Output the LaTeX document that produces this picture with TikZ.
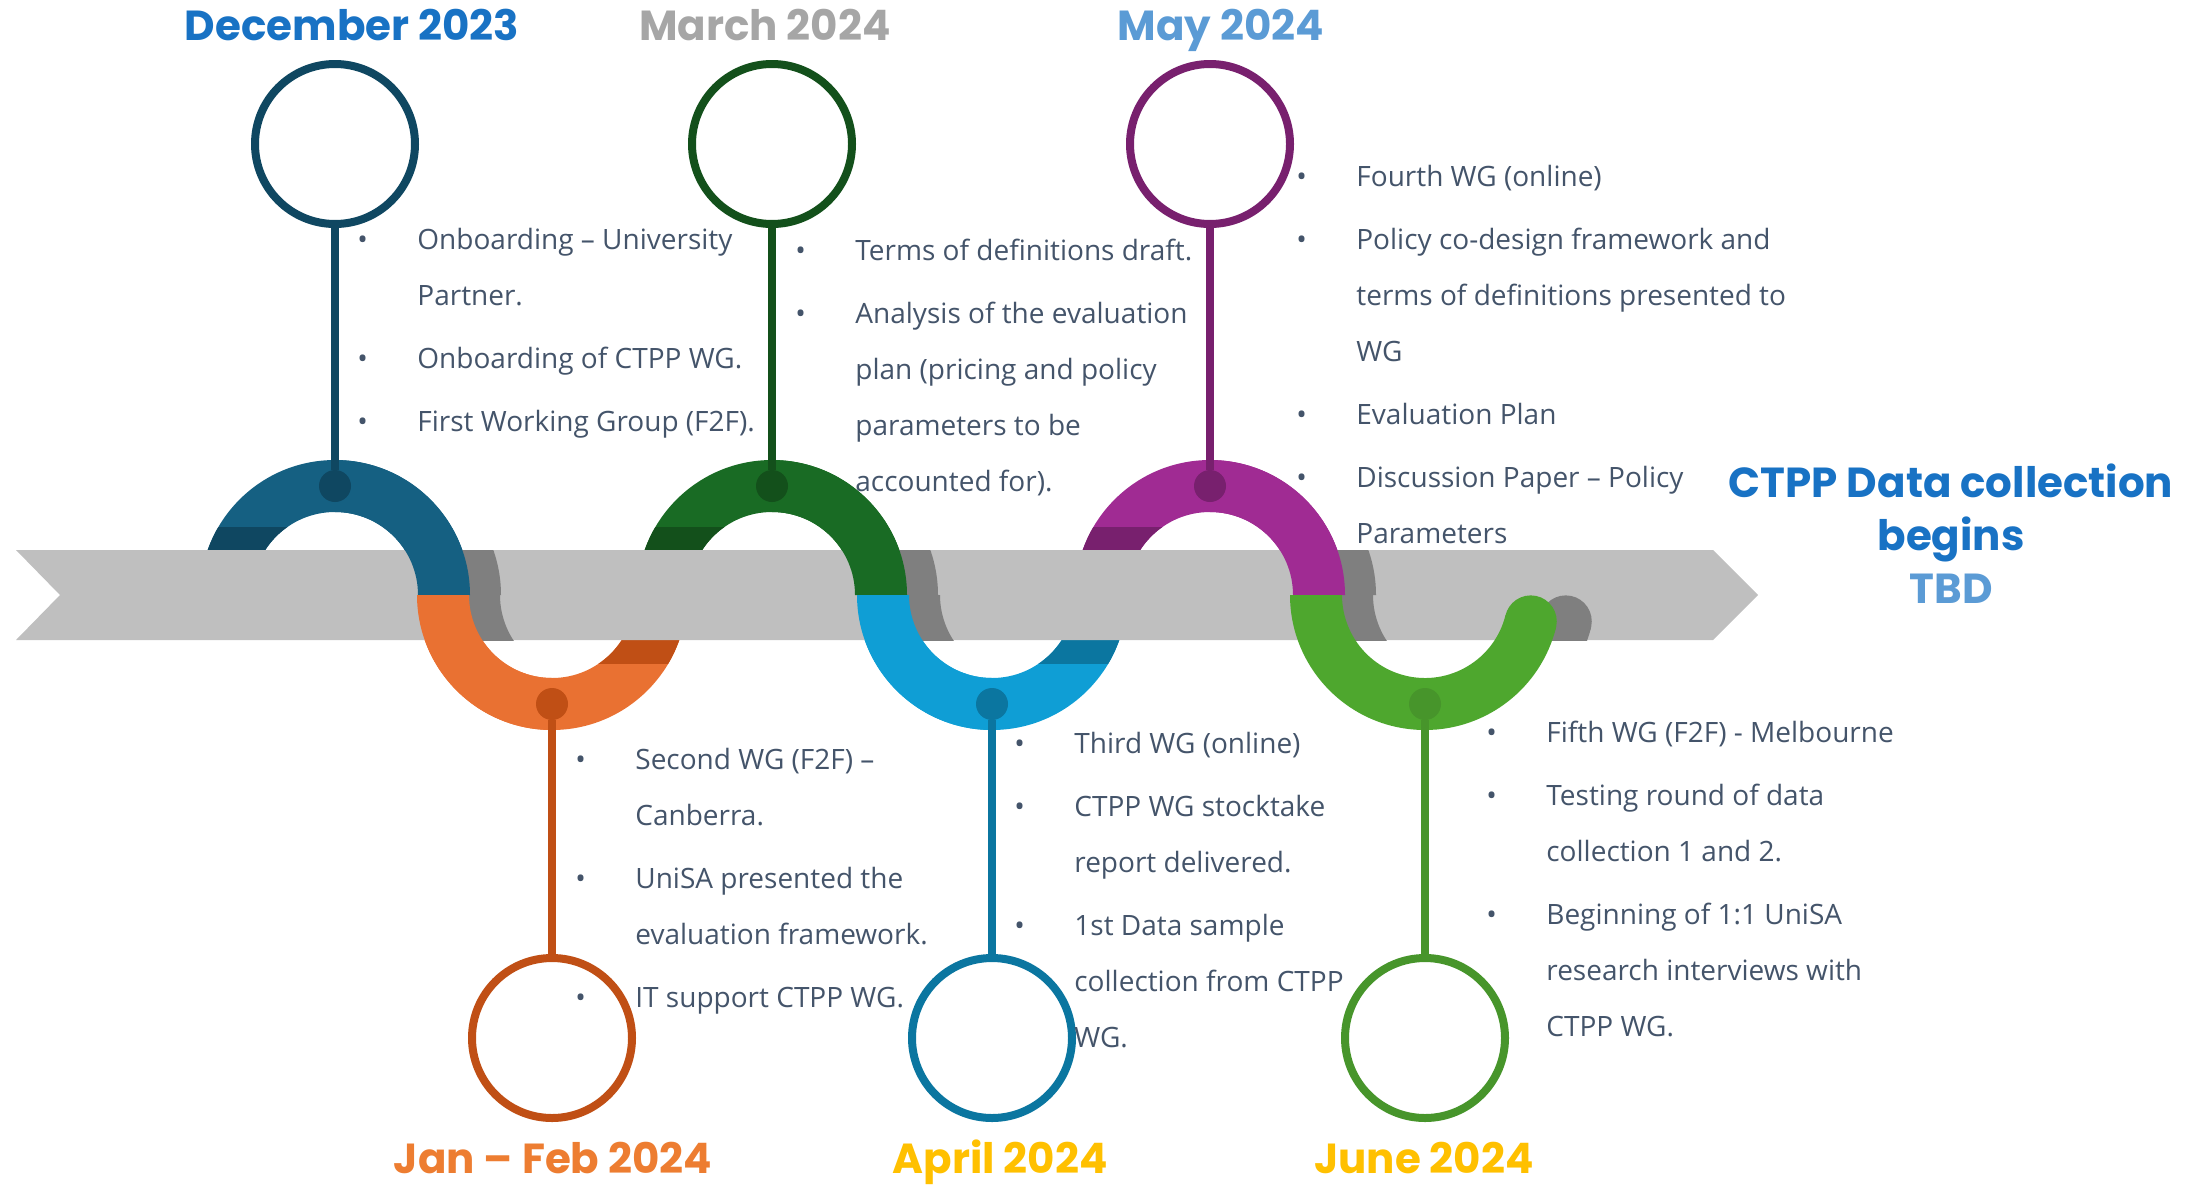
\documentclass[tikz,border=0pt]{standalone}
\usepackage{fontspec}
\setmainfont{Open Sans}
\newfontfamily\headfont{Poppins}
\usepackage{tikz}
\definecolor{decblue}{HTML}{156082}\definecolor{decdark}{HTML}{0F4761}
\definecolor{janorange}{HTML}{E97132}\definecolor{jandark}{HTML}{C04F15}
\definecolor{margreen}{HTML}{196B24}\definecolor{mardark}{HTML}{13501B}
\definecolor{aprblue}{HTML}{0F9ED5}\definecolor{aprdark}{HTML}{0B76A0}
\definecolor{maypurple}{HTML}{A02B93}\definecolor{maydark}{HTML}{78206E}
\definecolor{jungreen}{HTML}{4EA72E}\definecolor{jundark}{HTML}{47952B}
\definecolor{bandgray}{HTML}{BFBFBF}\definecolor{shadegray}{HTML}{7F7F7F}
\definecolor{notetext}{HTML}{44546A}
\definecolor{headblue}{HTML}{1872C4}\definecolor{headsky}{HTML}{5B9BD5}
\definecolor{headgray}{HTML}{A6A6A6}\definecolor{headorange}{HTML}{ED7D31}
\definecolor{headgold}{HTML}{FFC000}
% piece of the ribbon round centre (#1,-595), from angle #2 to #3
\def\ringpart#1#2#3{(#1,-595) ++(#2:135) arc[start angle=#2,end angle=#3,radius=135] -- ++(#3:-52) arc[start angle=#3,end angle=#2,radius=83] -- cycle}
\def\bul{\makebox[30pt][l]{\textbullet}}
\def\cont{\makebox[30pt]{}}

\begin{document}
\begin{tikzpicture}[x=0.5pt,y=0.5pt,
  ring/.style={circle,line width=4pt,minimum size=80pt,inner sep=0pt},
  dot/.style={circle,inner sep=0pt,minimum size=16pt},
  stem/.style={line width=4pt},
  title/.style={anchor=base,inner sep=0pt,font=\headfont\bfseries\fontsize{21pt}{26.5pt}\selectfont},
  note/.style={anchor=north west,inner sep=0pt,align=left,text=notetext,font=\fontsize{14pt}{28pt}\selectfont}]
\useasboundingbox (0,0) rectangle (2190,-1184);

% ribbon behind the band
\fill[decblue] \ringpart{335}{0}{180};
\fill[margreen] \ringpart{772}{0}{180};
\fill[maypurple] \ringpart{1210}{0}{180};
\fill[janorange] \ringpart{552}{180}{360};
\fill[aprblue] \ringpart{992}{180}{360};
\begin{scope}\clip (195,-527) rectangle (335,-560); \fill[decdark] \ringpart{335}{90}{180}; \end{scope}
\begin{scope}\clip (632,-527) rectangle (772,-560); \fill[mardark] \ringpart{772}{90}{180}; \end{scope}
\begin{scope}\clip (1070,-527) rectangle (1210,-560); \fill[maydark] \ringpart{1210}{90}{180}; \end{scope}
\begin{scope}\clip (552,-630) rectangle (692,-663); \fill[jandark] \ringpart{552}{270}{360}; \end{scope}
\begin{scope}\clip (992,-630) rectangle (1132,-663); \fill[aprdark] \ringpart{992}{270}{360}; \end{scope}

% band
\fill[bandgray] (16,-550) -- (1713,-550) -- (1758,-595) -- (1713,-640) -- (16,-640) -- (60,-595) -- cycle;

% shadows on the band
\begin{scope}
\clip (0,-550) rectangle (1713,-640);
\begin{scope}[shift={(31,0)}]
\fill[shadegray] \ringpart{335}{0}{90};
\fill[shadegray] \ringpart{552}{180}{270};
\fill[shadegray] \ringpart{772}{0}{90};
\fill[shadegray] \ringpart{992}{180}{270};
\fill[shadegray] \ringpart{1210}{0}{90};
\fill[shadegray] \ringpart{1425}{180}{270};
\end{scope}
\begin{scope}[shift={(35,0)}]
\fill[shadegray] \ringpart{1425}{270}{346};
\fill[shadegray] (1425,-595) ++(346:109) circle[radius=26];
\end{scope}
\end{scope}

% ribbon in front of the band
\fill[decblue] \ringpart{335}{0}{90};
\fill[janorange] \ringpart{552}{180}{270};
\fill[margreen] \ringpart{772}{0}{90};
\fill[aprblue] \ringpart{992}{180}{270};
\fill[maypurple] \ringpart{1210}{0}{90};
\fill[jungreen] \ringpart{1425}{180}{346};
\fill[jungreen] (1425,-595) ++(346:109) circle[radius=26];

% rings, dots and stems
\node[ring,draw=decdark] (decring) at (335,-144) {};
\node[ring,draw=mardark] (marring) at (772,-144) {};
\node[ring,draw=maydark] (mayring) at (1210,-144) {};
\node[ring,draw=jandark] (janring) at (552,-1038) {};
\node[ring,draw=aprdark] (aprring) at (992,-1038) {};
\node[ring,draw=jundark] (junring) at (1425,-1038) {};
\node[dot,fill=decdark] (decdot) at (335,-486) {};
\node[dot,fill=mardark] (mardot) at (772,-486) {};
\node[dot,fill=maydark] (maydot) at (1210,-486) {};
\node[dot,fill=jandark] (jandot) at (552,-704) {};
\node[dot,fill=aprdark] (aprdot) at (992,-704) {};
\node[dot,fill=jundark] (jundot) at (1425,-704) {};
\draw[stem,decdark] (decdot) -- (decring);
\draw[stem,mardark] (mardot) -- (marring);
\draw[stem,maydark] (maydot) -- (mayring);
\draw[stem,jandark] (jandot) -- (janring);
\draw[stem,aprdark] (aprdot) -- (aprring);
\draw[stem,jundark] (jundot) -- (junring);

% dates
\node[title,text=headblue] (dectitle) at (352,-40) {December 2023};
\node[title,text=headgray] (martitle) at (765,-40) {March 2024};
\node[title,text=headsky] (maytitle) at (1221,-40) {May 2024};
\node[title,text=headorange] (jantitle) at (553,-1173) {Jan – Feb 2024};
\node[title,text=headgold] (aprtitle) at (1000,-1173) {April 2024};
\node[title,text=headgold] (juntitle) at (1424,-1173) {June 2024};
\node[title,anchor=center,text=headblue,align=center] (ctpp) at (1951,-534) {CTPP Data collection\\begins\\\textcolor{headsky}{TBD}};

% notes
\node[note] (decnotes) at (357,-228) {\bul Onboarding – University\\ \cont Partner.\\[3.5pt]
  \bul Onboarding of CTPP WG.\\[3.5pt] \bul First Working Group (F2F).};
\node[note] (marnotes) at (795,-239) {\bul Terms of definitions draft.\\[3.5pt]
  \bul Analysis of the evaluation\\ \cont plan (pricing and policy\\ \cont parameters to be\\ \cont accounted for).};
\node[note] (maynotes) at (1296,-165) {\bul Fourth WG (online)\\[3.5pt]
  \bul Policy co-design framework and\\ \cont terms of definitions presented to\\ \cont WG\\[3.5pt]
  \bul Evaluation Plan\\[3.5pt] \bul Discussion Paper – Policy\\ \cont Parameters};
\node[note] (jannotes) at (575,-748) {\bul Second WG (F2F) –\\ \cont Canberra.\\[3.5pt]
  \bul UniSA presented the\\ \cont evaluation framework.\\[3.5pt] \bul IT support CTPP WG.};
\node[note] (aprnotes) at (1014,-732) {\bul Third WG (online)\\[3.5pt]
  \bul CTPP WG stocktake\\ \cont report delivered.\\[3.5pt]
  \bul 1st Data sample\\ \cont collection from CTPP\\ \cont WG.};
\node[note] (junnotes) at (1486,-721) {\bul Fifth WG (F2F) - Melbourne\\[3.5pt]
  \bul Testing round of data\\ \cont collection 1 and 2.\\[3.5pt]
  \bul Beginning of 1:1 UniSA\\ \cont research interviews with\\ \cont CTPP WG.};
\end{tikzpicture}
\end{document}
